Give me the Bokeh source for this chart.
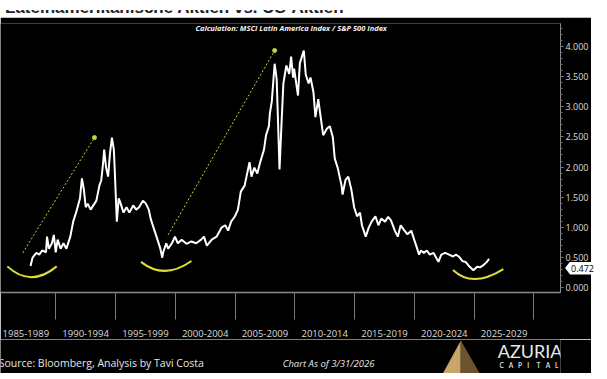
from bokeh.plotting import figure
from bokeh.models import Range1d, FixedTicker, NumeralTickFormatter, Label, Div
from bokeh.layouts import column
from bokeh.embed import file_html
from bokeh.resources import INLINE
from bokeh.core.properties import value

# ---------------- data ----------------
years = [1987.89, 1988.06, 1988.38, 1988.62, 1988.87, 1989.19, 1989.27, 1989.43, 1989.68, 1989.84,
         1990.00, 1990.16, 1990.41, 1990.65, 1990.89, 1991.22, 1991.46, 1991.70, 1992.03, 1992.19,
         1992.35, 1992.51, 1992.67, 1992.92, 1993.24, 1993.40, 1993.65, 1993.81, 1993.97, 1994.05,
         1994.21, 1994.38, 1994.54, 1994.70, 1994.86, 1994.94, 1995.11, 1995.27, 1995.43, 1995.67,
         1995.92, 1996.16, 1996.48, 1996.73, 1996.97, 1997.29, 1997.54, 1997.78, 1997.94, 1998.18,
         1998.51, 1998.75, 1998.91, 1998.99, 1999.24, 1999.40, 1999.72, 1999.97, 2000.21, 2000.53,
         2000.94, 2001.35, 2001.75, 2002.16, 2002.40, 2002.64, 2003.05, 2003.45, 2003.86, 2004.18,
         2004.42, 2004.67, 2004.99, 2005.24, 2005.48, 2005.80, 2006.05, 2006.21, 2006.37, 2006.61,
         2006.86, 2007.10, 2007.42, 2007.59, 2007.83, 2007.91, 2008.07, 2008.31, 2008.48, 2008.72,
         2008.88, 2009.04, 2009.29, 2009.53, 2009.69, 2009.85, 2009.94, 2010.26, 2010.42, 2010.75,
         2010.91, 2011.15, 2011.31, 2011.56, 2011.72, 2011.96, 2012.12, 2012.37, 2012.69, 2012.93,
         2013.18, 2013.34, 2013.58, 2013.91, 2013.99, 2014.23, 2014.47, 2014.72, 2014.96, 2015.20,
         2015.45, 2015.61, 2015.93, 2016.18, 2016.42, 2016.74, 2016.99, 2017.23, 2017.55, 2017.80,
         2018.04, 2018.36, 2018.61, 2018.85, 2019.17, 2019.42, 2019.74, 2019.98, 2020.15, 2020.39,
         2020.55, 2020.79, 2021.04, 2021.28, 2021.60, 2022.01, 2022.25, 2022.58, 2022.90, 2023.23,
         2023.47, 2023.71, 2024.04, 2024.28, 2024.52, 2024.93, 2025.25, 2025.49, 2025.74, 2026.06,
         2026.25]
ratio = [0.35, 0.49, 0.57, 0.54, 0.61, 0.58, 0.84, 0.64, 0.73, 0.87,
         0.58, 0.79, 0.64, 0.73, 0.64, 0.84, 1.09, 1.24, 1.48, 1.81,
         1.63, 1.33, 1.39, 1.29, 1.39, 1.44, 1.69, 1.78, 2.08, 2.29,
         1.99, 1.84, 2.23, 2.49, 2.29, 1.93, 1.09, 1.48, 1.39, 1.24,
         1.33, 1.24, 1.36, 1.29, 1.33, 1.44, 1.39, 1.29, 1.14, 0.99,
         0.79, 0.64, 0.49, 0.58, 0.73, 0.64, 0.73, 0.84, 0.73, 0.79,
         0.72, 0.76, 0.73, 0.79, 0.84, 0.69, 0.79, 0.84, 0.99, 1.03,
         0.94, 1.09, 1.18, 1.29, 1.59, 1.69, 1.93, 2.08, 1.84, 1.99,
         1.89, 2.08, 2.29, 2.53, 2.68, 2.89, 3.09, 3.72, 3.46, 1.96,
         2.70, 3.39, 3.69, 3.55, 3.84, 3.49, 3.64, 3.19, 3.73, 3.94,
         3.54, 3.39, 3.49, 3.24, 2.83, 3.13, 2.89, 2.53, 2.64, 2.68,
         2.49, 2.14, 1.99, 1.69, 1.54, 1.78, 1.84, 1.63, 1.33, 1.18,
         1.24, 1.03, 0.84, 0.99, 1.09, 1.18, 1.03, 1.14, 1.09, 1.17,
         1.11, 0.94, 0.84, 1.03, 0.94, 0.88, 0.94, 0.79, 0.69, 0.54,
         0.61, 0.57, 0.61, 0.54, 0.57, 0.42, 0.54, 0.57, 0.54, 0.51,
         0.54, 0.51, 0.43, 0.42, 0.36, 0.28, 0.34, 0.33, 0.36, 0.42,
         0.472]
last_value = 0.472

period_labels = ["1985-1989", "1990-1994", "1995-1999", "2000-2004", "2005-2009",
                 "2010-2014", "2015-2019", "2020-2024", "2025-2029"]
period_mid = [1987.5, 1992.5, 1997.5, 2002.5, 2007.5, 2012.5, 2017.5, 2022.5, 2027.5]
period_bounds = [1990, 1995, 2000, 2005, 2010, 2015, 2020, 2025, 2030]
y_ticks = [0, 0.5, 1.0, 1.5, 2.0, 2.5, 3.0, 3.5, 4.0]
y_minor = [i / 10 for i in range(0, 44)]

# annotation shapes (start, bottom, end) in (year, ratio)
arcs_x = [(1985.95, 1987.97, 1990.08), (1997.13, 1999.16, 2001.35), (2023.23, 2025.09, 2027.44)]
arcs_y = [(0.345, 0.165, 0.345), (0.42, 0.27, 0.435), (0.285, 0.135, 0.30)]
trend_x0 = [1987.24, 1999.40]
trend_y0 = [0.57, 0.87]
trend_x1 = [1993.24, 2008.31]
trend_y1 = [2.49, 3.94]

W = 591
FONT = "Open Sans"
X0, X1 = 1985.38, 2032.22
Y0, Y1 = -0.09, 4.39
TITLE_H = 7
P_H, P_TOP, P_BOT = 322, 6, 30

# last-value tag position, derived from the y scale of the main chart
frame_h = P_H - P_TOP - P_BOT
tag_h = 13
tag_center_from_top = TITLE_H + P_TOP + (Y1 - last_value) / (Y1 - Y0) * frame_h
tag_html = (f'<div style="position:absolute; right:0px; top:{tag_center_from_top - tag_h / 2:.1f}px; '
            f'height:{tag_h}px; line-height:{tag_h}px; background:white; color:black; '
            f'font-family:\'Open Sans\', sans-serif; font-size:9px; padding:0 2px 0 6px; z-index:10; '
            f'clip-path:polygon(5px 0, 100% 0, 100% 100%, 5px 100%, 0 50%); white-space:nowrap;">'
            f'{last_value:.3f}</div>')

# ---------------- title band (+ value tag overlay) ----------------
title = Div(
    text=(f'<div style="height:{TITLE_H}px; overflow:hidden; background:white;">'
          '<div style="position:relative; top:-11px; font-family:\'Liberation Sans\', Arial, sans-serif; '
          'font-weight:bold; font-size:17px; line-height:17px; color:#222; white-space:nowrap;">'
          'Lateinamerikanische Aktien vs. US-Aktien</div></div>' + tag_html),
    width=W, height=TITLE_H, styles={"overflow": "visible", "position": "relative", "z-index": "10"})

# ---------------- main chart ----------------
p = figure(width=W, height=P_H, x_range=Range1d(X0, X1), y_range=Range1d(Y0, Y1),
           output_backend="svg", toolbar_location=None, y_axis_location="right",
           background_fill_color="black", border_fill_color="black",
           min_border_left=0, min_border_right=28, min_border_top=P_TOP, min_border_bottom=P_BOT)
p.outline_line_color = None
p.grid.visible = False

xa = p.xaxis[0]
xa.ticker = FixedTicker(ticks=period_mid, minor_ticks=period_bounds)
xa.major_label_overrides = {m: lab for m, lab in zip(period_mid, period_labels)}
xa.major_tick_line_color = None
xa.major_tick_out = 0
xa.major_tick_in = 0
xa.minor_tick_in = 0
xa.minor_tick_out = 27
xa.minor_tick_line_color = "#7a7a7a"
xa.axis_line_color = "#8a8a8a"
xa.axis_line_width = 1.5
xa.major_label_text_color = "#dcdcdc"
xa.major_label_text_font = FONT
xa.major_label_text_font_size = "9.5px"
xa.major_label_standoff = 10

ya = p.yaxis[0]
ya.ticker = FixedTicker(ticks=y_ticks, minor_ticks=y_minor)
ya.formatter = NumeralTickFormatter(format="0.000")
ya.axis_line_color = "#8a8a8a"
ya.major_tick_line_color = "#9a9a9a"
ya.major_tick_in = 0
ya.major_tick_out = 3
ya.minor_tick_line_color = "#6a6a6a"
ya.minor_tick_in = 0
ya.minor_tick_out = 2
ya.major_label_standoff = 2
ya.major_label_text_color = "#dcdcdc"
ya.major_label_text_font = FONT
ya.major_label_text_font_size = "9px"

# yellow arcs (quadratic curves through start, bottom, end)
qx0, qy0, qx1, qy1, qcx, qcy = [], [], [], [], [], []
for (xs, xb, xe), (ys, yb, ye) in zip(arcs_x, arcs_y):
    qx0.append(xs); qy0.append(ys); qx1.append(xe); qy1.append(ye)
    qcx.append(2 * xb - (xs + xe) / 2); qcy.append(2 * yb - (ys + ye) / 2)
p.quadratic(x0=qx0, y0=qy0, x1=qx1, y1=qy1, cx=qcx, cy=qcy, line_color="#dede3a", line_width=2)

# dotted trend lines
p.segment(x0=trend_x0, y0=trend_y0, x1=trend_x1, y1=trend_y1, line_color="#c4d43c",
          line_width=1, line_dash="2 2")
p.scatter(x=trend_x1, y=trend_y1, size=4, color="#c4d43c")

# ratio line
p.line(years, ratio, line_color="white", line_width=2)

p.add_layout(Label(x=2009.69, y=4.31, text="Calculation: MSCI Latin America Index / S&P 500 Index",
                   text_align="center", text_baseline="middle", text_color="#f0f0f0",
                   text_font=FONT, text_font_style="bold italic", text_font_size="7.5px"))

# ---------------- footer ----------------
f = figure(width=W, height=34, x_range=Range1d(0, 607), y_range=Range1d(379, 343),
           output_backend="svg", toolbar_location=None, x_axis_type=None, y_axis_type=None,
           background_fill_color="black", border_fill_color="black", min_border=0)
f.outline_line_color = None
f.grid.visible = False
f.text(x=[-2], y=[368], text=["Source: Bloomberg, Analysis by Tavi Costa"], text_font=value(FONT),
       text_font_size="10.5px", text_color="#e6e6e6", text_baseline="middle")
f.text(x=[306], y=[368], text=["Chart As of 3/31/2026"], text_font=value(FONT),
       text_font_style="italic", text_font_size="9.5px", text_color="#e6e6e6", text_baseline="middle")
f.patch(x=[480, 499, 499], y=[379, 345, 379], color="#c9a56a")
f.patch(x=[499, 519, 499], y=[345, 379, 379], color="#6b5330")
f.text(x=[539], y=[355], text=["AZURIA"], text_font=value("Lato"), text_font_size="18px",
       text_color="#e8e8e8", text_baseline="middle")
cap_letters = list("CAPITAL")
f.text(x=[541 + 10 * i for i in range(len(cap_letters))], y=[371] * len(cap_letters), text=cap_letters,
       text_font=value("Lato"), text_font_size="6.5px", text_font_style="bold", text_color="#d8d8d8",
       text_baseline="middle")

layout = column(title, p, f)
open("out.html", "w").write(file_html(layout, INLINE))
